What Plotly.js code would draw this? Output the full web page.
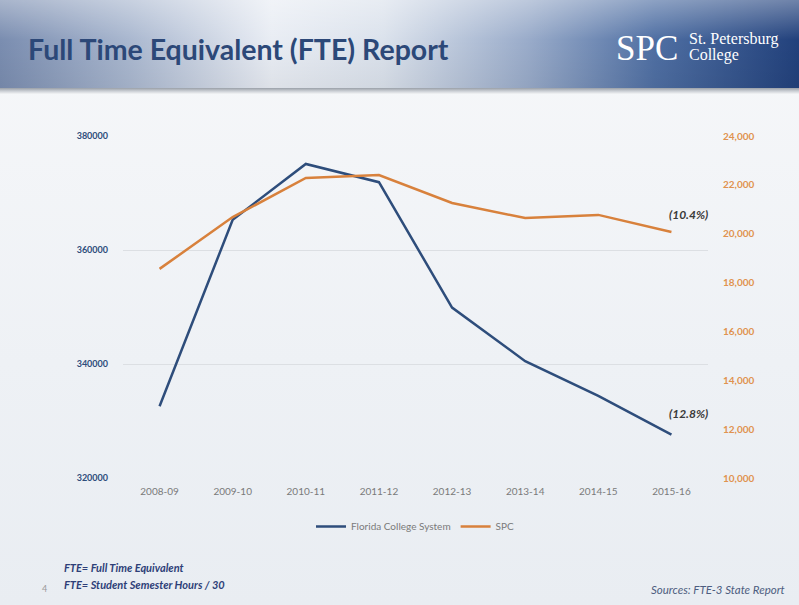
<!DOCTYPE html>
<html>
<head>
<meta charset="utf-8">
<script src="https://cdn.plot.ly/plotly-3.0.1.min.js"></script>
<style>
  html, body { margin:0; padding:0; width:799px; height:605px; overflow:hidden; }
  body { background: linear-gradient(180deg, #f7f8fa 0%, #eef1f5 60%, #e9edf2 100%); position:relative; font-family:"Lato","Open Sans",sans-serif; }
  #header { position:absolute; left:0; top:0; width:799px; height:88px;
    background: linear-gradient(90deg, #7a8db0 0%, #a9b7cf 16%, #e9edf4 34%, #dbe2ec 48%, #9aacca 66%, #4f6fa3 82%, #22417c 100%); }
  #header::after { content:""; position:absolute; left:0; top:0; width:100%; height:100%;
    background: linear-gradient(180deg, rgba(255,255,255,0.35) 0%, rgba(255,255,255,0) 45%, rgba(0,0,0,0.05) 100%); }
  #rule { position:absolute; left:0; top:88px; width:799px; height:6px;
    background: linear-gradient(180deg, #9aa0a8 0%, #c9cdd3 50%, #f3f4f6 100%); }
  #plot { position:absolute; left:0; top:0; width:799px; height:605px; }
</style>
</head>
<body>
<div id="header"></div>
<div id="rule"></div>
<div id="plot"></div>
<script>
const categories = ["2008-09","2009-10","2010-11","2011-12","2012-13","2013-14","2014-15","2015-16"];
const floridaCollegeSystem = [332600, 365300, 375100, 371900, 349900, 340500, 334400, 327600];
const spc = [18560, 20680, 22280, 22400, 21260, 20640, 20770, 20070];
const leftTicks = [320000, 340000, 360000, 380000];
const rightTicks = [10000, 12000, 14000, 16000, 18000, 20000, 22000, 24000];
const rightTickText = ["10,000","12,000","14,000","16,000","18,000","20,000","22,000","24,000"];

const W = 799, H = 605;
const L = 123, R = 708, T = 136, B = 478;
const px = x => (x - L) / (R - L);
const py = y => (B - y) / (B - T);

const traces = [
  { x: categories, y: floridaCollegeSystem, name: "Florida College System", type: "scatter", mode: "lines",
    line: { color: "#2e4d7b", width: 2.5 }, yaxis: "y" },
  { x: categories, y: spc, name: "SPC", type: "scatter", mode: "lines",
    line: { color: "#d8813c", width: 2.5 }, yaxis: "y2" }
];

const layout = {
  width: W, height: H,
  margin: { l: L, r: W - R, t: T, b: H - B, pad: 0 },
  paper_bgcolor: "rgba(0,0,0,0)", plot_bgcolor: "rgba(0,0,0,0)",
  showlegend: true,
  legend: { orientation: "h", x: 0.5, xanchor: "center", y: py(512), yanchor: "top",
    font: { family: "Lato, sans-serif", size: 10, color: "#7a7a7a" }, itemwidth: 30, bgcolor: "rgba(0,0,0,0)" },
  xaxis: { type: "category", range: [-0.5, 7.5], showgrid: false, zeroline: false, showline: false,
    ticks: "", tickfont: { family: "Lato, sans-serif", size: 10, color: "#7a7a7a" }, ticklabelstandoff: 6 },
  yaxis: { range: [320000, 380000], tickvals: leftTicks, ticktext: leftTicks.map(String),
    showgrid: true, gridcolor: "#dcdfe3", gridwidth: 1, zeroline: false, showline: false, ticks: "",
    tickfont: { family: "Lato, sans-serif", size: 9, color: "#2e4d7b", weight: "bold" }, ticklabelstandoff: 14 },
  yaxis2: { range: [10000, 24000], overlaying: "y", side: "right", tickvals: rightTicks, ticktext: rightTickText,
    showgrid: false, zeroline: false, showline: false, ticks: "",
    tickfont: { family: "Lato, sans-serif", size: 10, color: "#e0924f", weight: "bold" }, ticklabelstandoff: 14 },
  title: { text: "Full Time Equivalent (FTE) Report", x: 28 / W, xanchor: "left", xref: "container",
    y: 1 - 50 / H, yanchor: "middle", yref: "container",
    font: { family: "Lato, sans-serif", size: 28.5, color: "#2c4878", weight: "bold" } },
  annotations: [
    { text: "SPC", xref: "paper", yref: "paper", x: px(614), y: py(48), xanchor: "left", yanchor: "middle",
      showarrow: false, font: { family: "Liberation Serif, serif", size: 35, color: "#ffffff" } },
    { text: "St. Petersburg", xref: "paper", yref: "paper", x: px(687), y: py(39), xanchor: "left", yanchor: "middle",
      showarrow: false, font: { family: "Liberation Serif, serif", size: 16, color: "#ffffff" } },
    { text: "College", xref: "paper", yref: "paper", x: px(687), y: py(55), xanchor: "left", yanchor: "middle",
      showarrow: false, font: { family: "Liberation Serif, serif", size: 16, color: "#ffffff" } },
    { text: "<b><i>(10.4%)</i></b>", xref: "paper", yref: "paper", x: px(688), y: py(214), xanchor: "center", yanchor: "middle",
      showarrow: false, font: { family: "Lato, sans-serif", size: 12, color: "#3a3a3a" } },
    { text: "<b><i>(12.8%)</i></b>", xref: "paper", yref: "paper", x: px(688), y: py(413), xanchor: "center", yanchor: "middle",
      showarrow: false, font: { family: "Lato, sans-serif", size: 12, color: "#3a3a3a" } },
    { text: "<b><i>FTE= Full Time Equivalent</i></b>", xref: "paper", yref: "paper", x: px(62), y: py(567), xanchor: "left", yanchor: "middle",
      showarrow: false, font: { family: "Lato, sans-serif", size: 11, color: "#2e3f78" } },
    { text: "<b><i>FTE= Student Semester Hours / 30</i></b>", xref: "paper", yref: "paper", x: px(62), y: py(584), xanchor: "left", yanchor: "middle",
      showarrow: false, font: { family: "Lato, sans-serif", size: 11, color: "#2e3f78" } },
    { text: "4", xref: "paper", yref: "paper", x: px(44), y: py(588), xanchor: "center", yanchor: "middle",
      showarrow: false, font: { family: "Lato, sans-serif", size: 9, color: "#9a9a9a" } },
    { text: "<i>Sources: FTE-3 State Report</i>", xref: "paper", yref: "paper", x: px(787), y: py(589), xanchor: "right", yanchor: "middle",
      showarrow: false, font: { family: "Lato, sans-serif", size: 11.5, color: "#4d5d80" } }
  ]
};

Plotly.newPlot("plot", traces, layout, { displayModeBar: false, staticPlot: true });
</script>
</body>
</html>
